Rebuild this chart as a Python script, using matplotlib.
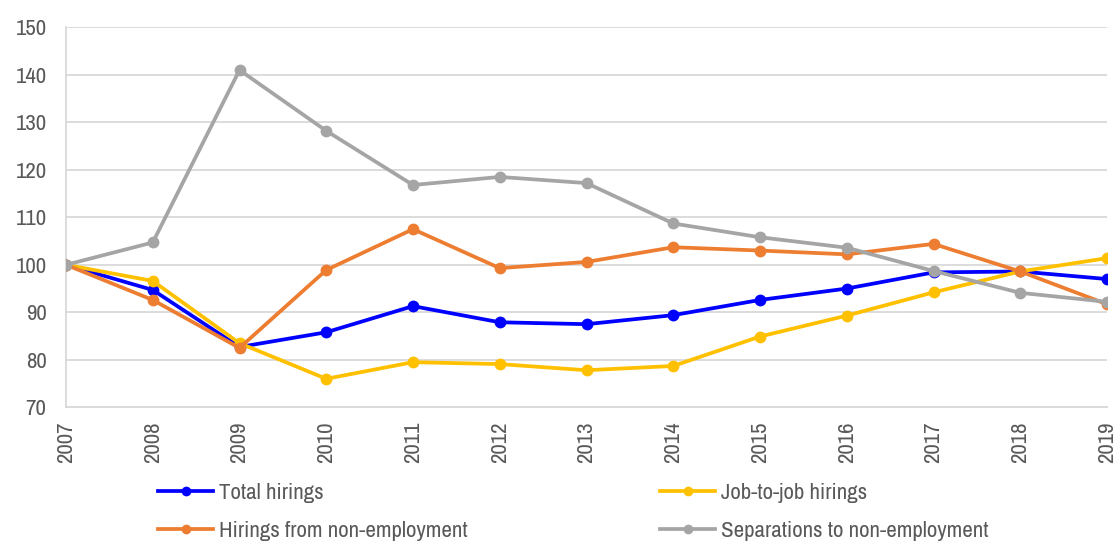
import matplotlib
matplotlib.use("Agg")
import matplotlib.pyplot as plt
from matplotlib.lines import Line2D
from matplotlib import font_manager

years = [2007, 2008, 2009, 2010, 2011, 2012, 2013, 2014, 2015, 2016, 2017, 2018, 2019]

total_hirings = [100.0, 94.7, 82.7, 85.8, 91.3, 87.9, 87.5, 89.4, 92.6, 95.0, 98.4, 98.6, 97.0]
job_to_job = [100.0, 96.6, 83.5, 76.0, 79.5, 79.1, 77.8, 78.7, 84.9, 89.3, 94.2, 98.6, 101.4]
hirings_nonemp = [100.0, 92.6, 82.5, 98.9, 107.5, 99.3, 100.6, 103.7, 103.0, 102.2, 104.4, 98.6, 91.7]
separations_nonemp = [100.0, 104.7, 141.0, 128.2, 116.8, 118.5, 117.2, 108.7, 105.8, 103.6, 98.7, 94.1, 92.2]

series_names = ["Total hirings", "Job-to-job hirings",
                "Hirings from non-employment", "Separations to non-employment"]
series_values = [total_hirings, job_to_job, hirings_nonemp, separations_nonemp]
series_colors = ["#0000FF", "#FFC000", "#ED7D31", "#A5A5A5"]

y_ticks = [70, 80, 90, 100, 110, 120, 130, 140, 150]

# prefer a narrow sans face if one is available
installed = sorted({f.name for f in font_manager.fontManager.ttflist})
narrow = [n for n in installed if "Narrow" in n]
if narrow:
    family, fsize = narrow[0], 16.5
else:
    family, fsize = "Liberation Sans", 14.5
plt.rcParams["font.family"] = [family, "DejaVu Sans"]

text_color = "#595959"
grid_color = "#D9D9D9"

fig = plt.figure(figsize=(11.2, 5.41), dpi=100)
ax = fig.add_axes([66 / 1120, 1 - 407.3 / 541, (1107 - 66) / 1120, (407.3 - 27.3) / 541])

handles = []
for name, vals, col in zip(series_names, series_values, series_colors):
    ax.plot(years, vals, color=col, lw=2.7, marker="o", markersize=8.5,
            markeredgewidth=0, solid_capstyle="round", solid_joinstyle="round",
            zorder=3)
    handles.append(Line2D([], [], color=col, lw=2.7, marker="o", markersize=7,
                          markeredgewidth=0, label=name))

ax.set_xlim(years[0], years[-1])
ax.set_ylim(y_ticks[0], y_ticks[-1])
ax.set_yticks(y_ticks)
ax.set_xticks(years)
ax.set_xticklabels([str(y) for y in years], rotation=90)
ax.yaxis.grid(True, color=grid_color, lw=1.3)
ax.set_axisbelow(True)

for side in ["top", "right"]:
    ax.spines[side].set_visible(False)
for side in ["left", "bottom"]:
    ax.spines[side].set_color(grid_color)
    ax.spines[side].set_linewidth(1.3)

ax.tick_params(axis="both", length=0, labelsize=fsize, labelcolor=text_color)
ax.tick_params(axis="y", pad=14)
ax.tick_params(axis="x", pad=10)

# legend entries laid out in a 2x2 grid below the plot
positions = [(158, 492.7), (660, 492.7), (158, 530.5), (660, 530.5)]
for h, (px, py) in zip(handles, positions):
    fig.legend(handles=[h], loc="center left",
               bbox_to_anchor=(px / 1120, 1 - py / 541),
               frameon=False, fontsize=fsize, handlelength=2.4,
               handletextpad=0.28, borderpad=0, borderaxespad=0,
               labelcolor=text_color)

fig.savefig("out.png", dpi=100)
